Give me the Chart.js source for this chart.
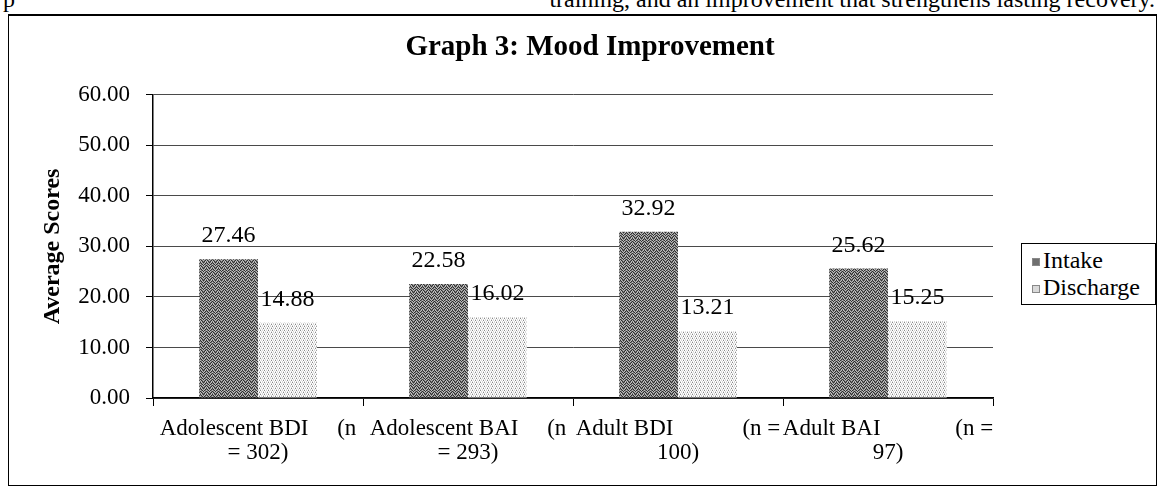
<!DOCTYPE html>
<html>
<head>
<meta charset="utf-8">
<script src="https://cdn.jsdelivr.net/npm/chart.js@4.4.1/dist/chart.umd.min.js"></script>
<style>
  body { margin: 0; width: 1160px; height: 488px; position: relative; overflow: hidden; background: #fff; font-family: 'Liberation Serif', 'Times New Roman', serif; }
  .topline { position: absolute; left: 0; top: -13px; width: 1160px; height: 24px; font-size: 24px; line-height: 24px; color: #000; white-space: nowrap; }
  .topline .l { position: absolute; left: 3px; }
  .topline .r { position: absolute; right: 5px; }
  .frame { position: absolute; left: 8px; top: 14px; width: 1149px; height: 472px; border: 1px solid #000; border-top-width: 2px; box-sizing: border-box; }
  .wrap { position: absolute; left: 0; top: 0; width: 1160px; height: 488px; }
  .legend { position: absolute; left: 1021px; top: 243px; width: 135px; height: 62px; border: 1px solid #000; box-sizing: border-box; background: #fff; font-size: 24px; }
  .legend .item { position: absolute; left: 10px; height: 27px; line-height: 27px; white-space: nowrap; }
  .legend .sw { display: inline-block; width: 8px; height: 8px; margin-right: 3px; vertical-align: 2px; border: 1px solid #888; box-sizing: border-box; }
</style>
</head>
<body>
<div class="topline"><span class="l">p</span><span class="r">training, and an improvement that strengthens lasting recovery.</span></div>
<div class="frame"></div>
<div class="wrap"><canvas id="mood"></canvas></div>
<div class="legend" id="legend"></div>
<script>
const sp = (n) => '\u00a0'.repeat(n);

const categoryLines = [
    ['Adolescent BDI' + sp(5) + '(n', '= 302)'],
    ['Adolescent BAI' + sp(5) + '(n', '= 293)'],
    ['Adult BDI' + sp(12) + '(n =', '100)'],
    ['Adult BAI' + sp(13) + '(n =', '97)']
];
const seriesNames = ['Intake', 'Discharge'];
const intakeScores = [27.46, 22.58, 32.92, 25.62];
const dischargeScores = [14.88, 16.02, 13.21, 15.25];

const FONT = "'Liberation Serif', 'Times New Roman', serif";

const makePattern = (rows, palette) => {
    const c = document.createElement('canvas');
    c.width = rows[0].length;
    c.height = rows.length;
    const g = c.getContext('2d');
    rows.forEach((row, y) => {
        [...row].forEach((ch, x) => {
            g.fillStyle = palette[ch];
            g.fillRect(x, y, 1, 1);
        });
    });
    return g.createPattern(c, 'repeat');
};

const intakeFill = makePattern([
    '012102',
    '210120',
    '102012',
    '021201',
    '120210',
    '201021'
], { '0': '#2e2e2e', '1': '#7c7c7c', '2': '#bdbdbd' });

const dischargeFill = makePattern([
    'w2w3',
    '2w2w',
    '3w2w',
    'w2w2'
], { 'w': '#ffffff', '2': '#d6d6d6', '3': '#8a8a8a' });

// value labels above each bar
const valueLabels = {
    id: 'valueLabels',
    afterDatasetsDraw(chart) {
        const ctx = chart.ctx;
        ctx.save();
        ctx.font = `24px ${FONT}`;
        ctx.fillStyle = '#000';
        ctx.textAlign = 'center';
        ctx.textBaseline = 'alphabetic';
        chart.data.datasets.forEach((ds, i) => {
            chart.getDatasetMeta(i).data.forEach((bar, j) => {
                ctx.fillText(ds.data[j].toFixed(2), bar.x, bar.y - 17);
            });
        });
        ctx.restore();
    }
};

// the title is centred on the whole frame, not on the plot + legend gap
const wideTitle = {
    id: 'wideTitle',
    afterLayout(chart) {
        const t = chart.titleBlock;
        if (t) {
            t.left = 20;
            t.right = chart.width;
            t.width = t.right - t.left;
        }
    }
};

const chart = new Chart(document.getElementById('mood'), {
    type: 'bar',
    data: {
        labels: categoryLines,
        datasets: [{
            label: seriesNames[0],
            data: intakeScores,
            backgroundColor: intakeFill,
            borderWidth: 0
        }, {
            label: seriesNames[1],
            data: dischargeScores,
            backgroundColor: dischargeFill,
            borderWidth: 0
        }]
    },
    options: {
        responsive: true,
        maintainAspectRatio: false,
        animation: false,
        layout: {
            padding: { left: 20, right: 167, top: 0, bottom: 20 }
        },
        datasets: {
            bar: { categoryPercentage: 0.56, barPercentage: 1 }
        },
        plugins: {
            legend: { display: false },
            tooltip: { enabled: false },
            title: {
                display: true,
                text: 'Graph 3: Mood Improvement',
                color: '#000',
                font: { family: FONT, size: 29, weight: 'bold' },
                padding: { top: 30, bottom: 30 }
            }
        },
        scales: {
            x: {
                grid: { offset: true, drawOnChartArea: false, tickLength: 8, color: '#000' },
                border: { color: '#000', width: 1.5 },
                ticks: {
                    color: '#000',
                    autoSkip: false,
                    maxRotation: 0,
                    padding: 11,
                    font: { family: FONT, size: 23, lineHeight: 1.05 }
                },
                afterFit: (scale) => { scale.height = 70; }
            },
            y: {
                min: 0,
                max: 60,
                ticks: {
                    stepSize: 10,
                    color: '#000',
                    padding: 16,
                    font: { family: FONT, size: 23 },
                    callback: (v) => v.toFixed(2)
                },
                grid: { color: '#4a4a4a', tickColor: '#000', tickLength: 7 },
                border: { color: '#000', width: 1.5 },
                title: {
                    display: true,
                    text: 'Average Scores',
                    color: '#000',
                    font: { family: FONT, size: 24, weight: 'bold' },
                    padding: { top: 18, bottom: 0 }
                },
                afterFit: (scale) => { scale.width = 133; }
            }
        }
    },
    plugins: [valueLabels, wideTitle]
});

// legend box on the right
const legendEle = document.getElementById('legend');
const swatchColors = ['#6f6f6f', '#d9d9d9'];
chart.data.datasets.forEach((ds, i) => {
    const item = document.createElement('div');
    item.className = 'item';
    item.style.top = `${3 + i * 27}px`;
    item.innerHTML = `<span class="sw" style="background:${swatchColors[i]}"></span>${ds.label}`;
    legendEle.appendChild(item);
});
</script>
</body>
</html>
